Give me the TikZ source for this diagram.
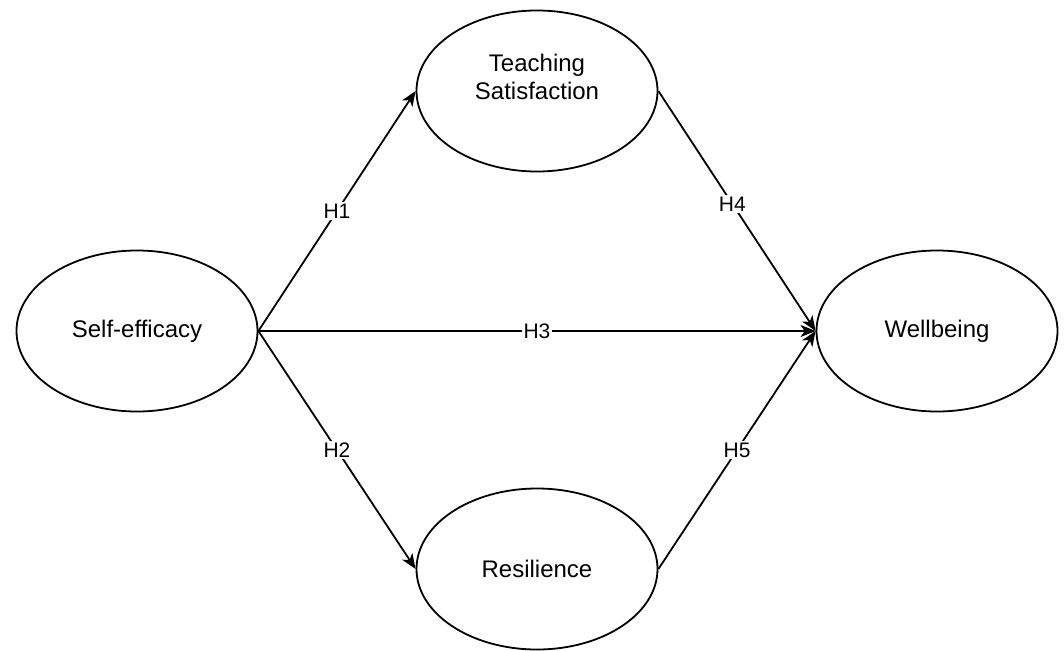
\documentclass[tikz,border=0pt]{standalone}
\usepackage{fontspec}
\setmainfont{Liberation Sans}
\usetikzlibrary{shapes.geometric,arrows.meta}
\tikzset{
  construct/.style={draw=black,line width=1.8pt,ellipse,inner sep=0pt,
    minimum width=241pt,minimum height=161pt,font=\fontsize{24}{28}\selectfont},
  path/.style={draw=black,line width=1.8pt,-{Stealth[length=15pt,width=12pt,inset=4pt]}},
  hyp/.style={fill=white,inner sep=2pt,font=\fontsize{21}{24}\selectfont}
}
\begin{document}
\begin{tikzpicture}[x=1pt,y=1pt]
\useasboundingbox (0,0) rectangle (1064,-650);
% constructs:
\node[construct] (se) at (137,-331) {Self-efficacy};
\node[construct] (ts) at (537,-91) {};
\node[font=\fontsize{24}{28}\selectfont,align=center] (tstext) at (537,-77) {Teaching\\Satisfaction};
\node[construct] (rs) at (537,-569) {Resilience};
\node[construct] (wb) at (937,-331) {Wellbeing};
% hypotheses:
\path[path] (se.east) -- node[hyp] (h1) {H1} (ts.west);
\path[path] (se.east) -- node[hyp] (h2) {H2} (rs.west);
\path[path,line width=1.2pt] (se.east) -- node[hyp] (h3) {H3} (wb.west);
\path[path] (ts.east) -- node[hyp,pos=0.47] (h4) {H4} (wb.west);
\path[path] (rs.east) -- node[hyp] (h5) {H5} (wb.west);
\end{tikzpicture}
\end{document}
